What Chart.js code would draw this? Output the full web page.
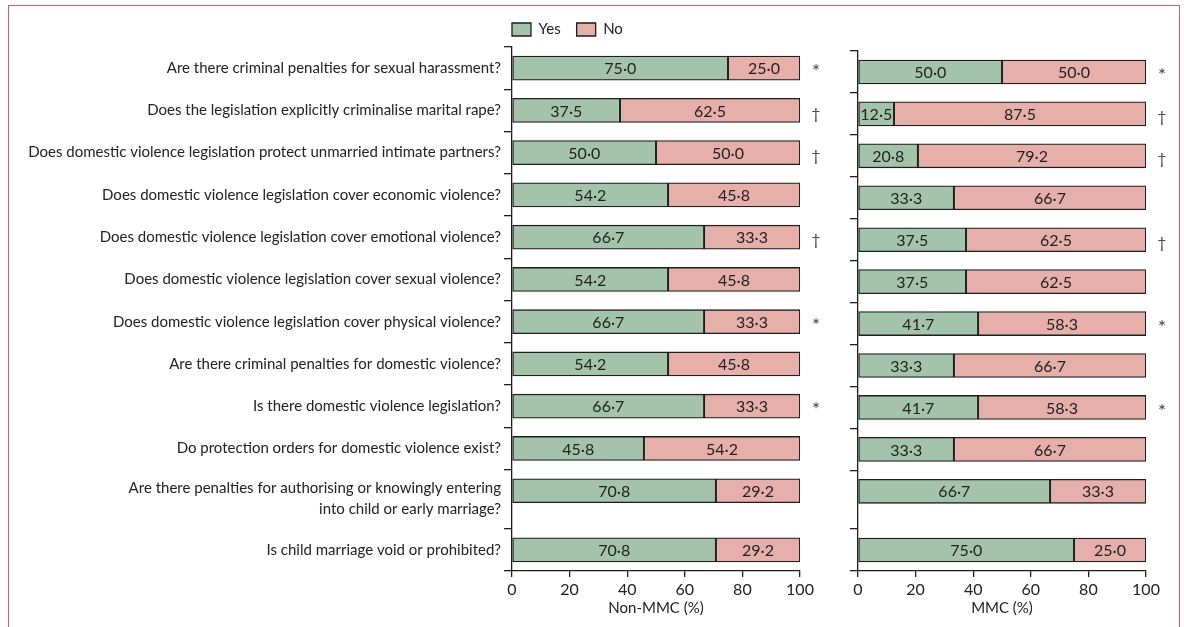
<!DOCTYPE html>
<html>
<head>
<meta charset="utf-8">
<script src="https://cdn.jsdelivr.net/npm/chart.js@4.4.1/dist/chart.umd.min.js"></script>
<style>
  html, body { margin: 0; padding: 0; background: #ffffff; }
  #wrap { position: relative; width: 1184px; height: 627px; overflow: hidden; }
  #frame {
    position: absolute; left: 8px; top: 5px; width: 1172px; height: 660px;
    border: 1.5px solid #d9577c; border-bottom: none; box-sizing: border-box;
  }
  canvas { position: absolute; left: 0; top: 0; }
</style>
</head>
<body>
<div id="wrap">
  <div id="frame"></div>
  <canvas id="nonMmc" width="1184" height="627"></canvas>
  <canvas id="mmc" width="1184" height="627"></canvas>
</div>
<script>
// Legal questions (multi-line entries wrap onto a second line)
const questions = [
  ['Are there criminal penalties for sexual harassment?'],
  ['Does the legislation explicitly criminalise marital rape?'],
  ['Does domestic violence legislation protect unmarried intimate partners?'],
  ['Does domestic violence legislation cover economic violence?'],
  ['Does domestic violence legislation cover emotional violence?'],
  ['Does domestic violence legislation cover sexual violence?'],
  ['Does domestic violence legislation cover physical violence?'],
  ['Are there criminal penalties for domestic violence?'],
  ['Is there domestic violence legislation?'],
  ['Do protection orders for domestic violence exist?'],
  ['Are there penalties for authorising or knowingly entering', 'into child or early marriage?'],
  ['Is child marriage void or prohibited?']
];

// Share of countries answering Yes / No (%)
const nonMmcYes = [75.0, 37.5, 50.0, 54.2, 66.7, 54.2, 66.7, 54.2, 66.7, 45.8, 70.8, 70.8];
const nonMmcNo  = [25.0, 62.5, 50.0, 45.8, 33.3, 45.8, 33.3, 45.8, 33.3, 54.2, 29.2, 29.2];
const mmcYes    = [50.0, 12.5, 20.8, 33.3, 37.5, 37.5, 41.7, 33.3, 41.7, 33.3, 66.7, 75.0];
const mmcNo     = [50.0, 87.5, 79.2, 66.7, 62.5, 62.5, 58.3, 66.7, 58.3, 66.7, 33.3, 25.0];

// Significance markers per question
const significance = ['*', '†', '†', '', '†', '', '*', '', '*', '', '', ''];

// Percentage axis ticks
const pctTicks = [0, 20, 40, 60, 80, 100];

const GREEN = '#a3c4ab';
const PINK = '#e6afa9';
const EDGE = '#1e1e1e';
const INK = '#222222';
const FONT = 'Lato';

// Row layout: a wrapped question gets extra room for its second line
const EXTRA_LINE = 0.4;
const rowPos = [];
const rowEdges = [-0.5];
(function () {
  let p = 0;
  questions.forEach(q => {
    rowPos.push(p);
    const span = 1 + (q.length - 1) * EXTRA_LINE;
    rowEdges.push(p - 0.5 + span);
    p += span;
  });
})();

const fmt = v => v.toFixed(1).replace('.', '\u00B7');

const rowText = {
  id: 'rowText',
  afterDatasetsDraw(chart, args, opts) {
    const { ctx, chartArea } = chart;
    const yScale = chart.scales.y;
    ctx.save();
    // segment values
    ctx.font = '16px ' + FONT;
    ctx.fillStyle = INK;
    ctx.textAlign = 'center';
    ctx.textBaseline = 'middle';
    chart.data.datasets.forEach((ds, di) => {
      const meta = chart.getDatasetMeta(di);
      meta.data.forEach((bar, i) => {
        const p = bar.getProps(['x', 'base', 'y'], true);
        ctx.fillText(fmt(ds.data[i].x), (p.x + p.base) / 2, p.y + 1);
      });
    });
    // significance markers
    ctx.fillStyle = '#444444';
    significance.forEach((m, i) => {
      if (!m) return;
      const y = yScale.getPixelForValue(rowPos[i]);
      ctx.font = (m === '*' ? '19px ' : '16px ') + FONT;
      ctx.fillText(m, chartArea.right + 16, y + (m === '*' ? 4 : 3));
    });
    // question labels
    if (opts.questions) {
      ctx.fillStyle = INK;
      ctx.font = '15px ' + FONT;
      ctx.textAlign = 'right';
      questions.forEach((q, i) => {
        const y = yScale.getPixelForValue(rowPos[i]);
        const start = q.length > 1 ? y - 3 : y;
        q.forEach((line, k) => ctx.fillText(line, chartArea.left - 11, start + k * 21));
      });
    }
    ctx.restore();
  }
};

function datasets(yes, no) {
  const common = {
    borderColor: EDGE, borderWidth: 1.3, borderSkipped: false,
    barThickness: 24, stack: 'answers'
  };
  return [
    Object.assign({ label: 'Yes', backgroundColor: GREEN,
      data: yes.map((v, i) => ({ x: v, y: rowPos[i] })) }, common),
    Object.assign({ label: 'No', backgroundColor: PINK,
      data: no.map((v, i) => ({ x: v, y: rowPos[i] })) }, common)
  ];
}

function makeChart(id, yes, no, title, padLeft, padRight, showLegend) {
  return new Chart(document.getElementById(id), {
    type: 'bar',
    data: { datasets: datasets(yes, no) },
    plugins: [rowText],
    options: {
      indexAxis: 'y',
      responsive: false,
      animation: false,
      events: [],
      layout: { padding: { left: padLeft, right: padRight, top: showLegend ? 6 : 51, bottom: 10 } },
      plugins: {
        tooltip: { enabled: false },
        rowText: { questions: showLegend },
        legend: {
          display: showLegend,
          position: 'top',
          align: 'start',
          maxHeight: 45,
          labels: {
            boxWidth: 19, boxHeight: 13, padding: 16, color: INK,
            font: { family: FONT, size: 15 }
          }
        }
      },
      scales: {
        x: {
          type: 'linear', min: 0, max: 100, stacked: true,
          afterBuildTicks: s => { s.ticks = pctTicks.map(v => ({ value: v })); },
          afterFit: s => { s.height = 46; },
          grid: { drawOnChartArea: false, tickLength: 6, color: EDGE, lineWidth: 1.3 },
          border: { display: true, color: EDGE, width: 1.3 },
          ticks: { color: INK, padding: 3, font: { family: FONT, size: 16 } },
          title: { display: true, text: title, color: INK, padding: 0,
                   font: { family: FONT, size: 15 } }
        },
        y: {
          type: 'linear', reverse: true, stacked: true, offset: false,
          min: rowEdges[0], max: rowEdges[rowEdges.length - 1],
          afterBuildTicks: s => { s.ticks = rowEdges.map(v => ({ value: v })); },
          afterFit: s => { s.width = 16; },
          grid: { drawOnChartArea: false, offset: false, tickLength: 8, color: EDGE, lineWidth: 1.3 },
          border: { display: true, color: EDGE, width: 1.3 },
          ticks: { display: false }
        }
      }
    }
  });
}

makeChart('nonMmc', nonMmcYes, nonMmcNo, 'Non-MMC (%)', 496, 384, true);
makeChart('mmc', mmcYes, mmcNo, 'MMC (%)', 842, 38, false);
</script>
</body>
</html>
